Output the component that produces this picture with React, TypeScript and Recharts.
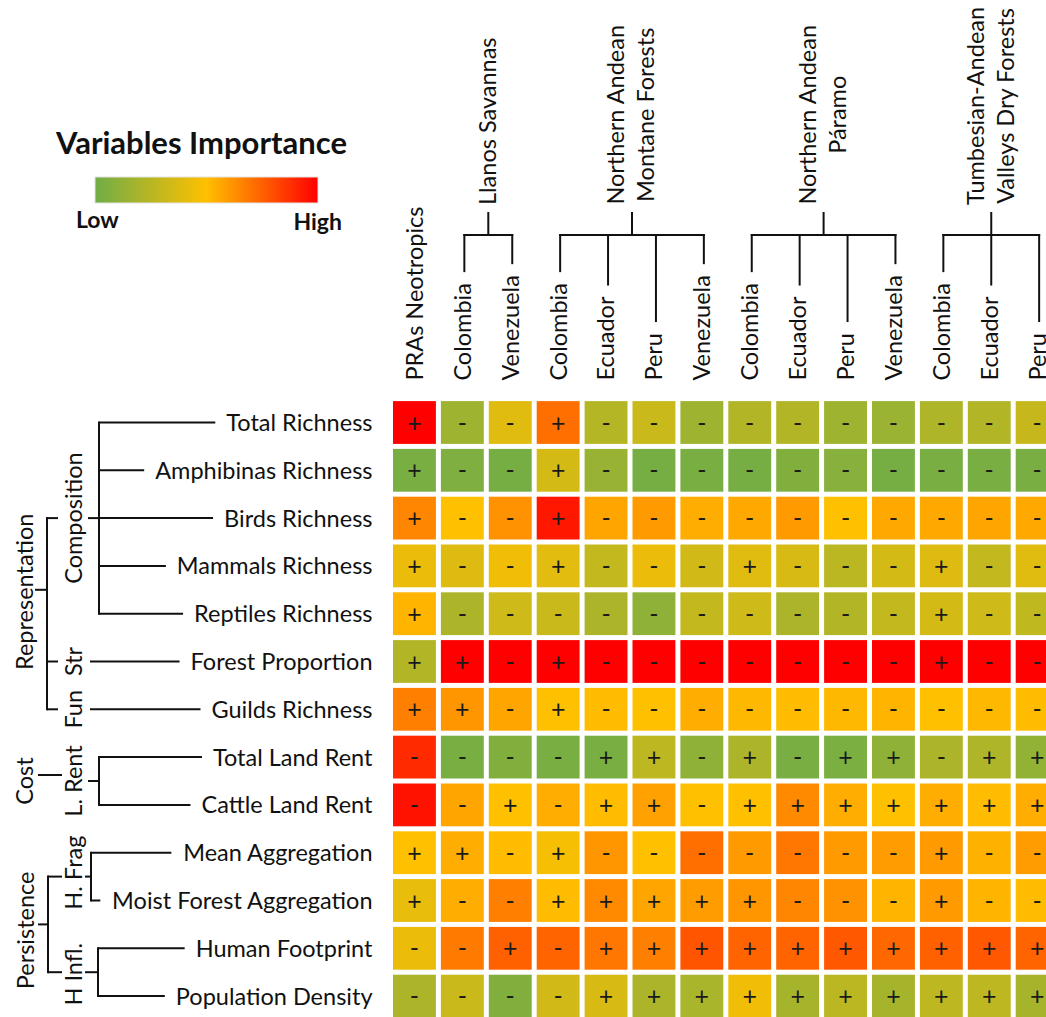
import React from "react";
import { ScatterChart, Scatter, XAxis, YAxis, Customized } from "recharts";

// study units along the top of the matrix
const columns = [
  "PRAs Neotropics",
  "Colombia", "Venezuela",
  "Colombia", "Ecuador", "Peru", "Venezuela",
  "Colombia", "Ecuador", "Peru", "Venezuela",
  "Colombia", "Ecuador", "Peru",
];

// ecoregion brackets over the country columns (first..last column index)
const ecoregions = [
  { lines: ["Llanos Savannas"], from: 1, to: 2 },
  { lines: ["Northern Andean", "Montane Forests"], from: 3, to: 6 },
  { lines: ["Northern Andean", "Páramo"], from: 7, to: 10 },
  { lines: ["Tumbesian-Andean", "Valleys Dry Forests"], from: 11, to: 13 },
];

const variables = [
  "Total Richness",
  "Amphibinas Richness",
  "Birds Richness",
  "Mammals Richness",
  "Reptiles Richness",
  "Forest Proportion",
  "Guilds Richness",
  "Total Land Rent",
  "Cattle Land Rent",
  "Mean Aggregation",
  "Moist Forest Aggregation",
  "Human Footprint",
  "Population Density",
];

// relative importance, 0 = low, 100 = high (one row per variable)
const importance = [
  [100, 16, 39, 71, 24, 31, 16, 23, 23, 16, 15, 22, 23, 30],
  [3, 5, 2, 35, 14, 2, 3, 2, 6, 8, 2, 3, 3, 3],
  [65, 50, 62, 94, 57, 60, 55, 56, 60, 50, 56, 56, 57, 56],
  [43, 38, 45, 40, 29, 43, 34, 39, 36, 26, 35, 38, 29, 39],
  [53, 21, 33, 31, 21, 11, 29, 33, 21, 23, 29, 35, 33, 28],
  [23, 100, 100, 100, 100, 100, 100, 100, 100, 100, 100, 100, 100, 100],
  [67, 61, 57, 50, 51, 50, 55, 52, 51, 52, 53, 50, 52, 51],
  [89, 3, 6, 3, 3, 27, 11, 21, 3, 4, 11, 21, 22, 12],
  [95, 57, 50, 55, 51, 58, 50, 50, 64, 55, 50, 55, 51, 55],
  [50, 55, 51, 47, 61, 50, 71, 60, 69, 60, 59, 60, 54, 59],
  [42, 55, 67, 51, 64, 57, 59, 61, 65, 62, 53, 60, 53, 51],
  [43, 68, 75, 74, 69, 67, 78, 74, 74, 77, 73, 75, 77, 74],
  [21, 31, 6, 34, 36, 21, 20, 45, 19, 26, 19, 27, 27, 19],
];

// direction of the effect for each cell
const signs = [
  "+--+----------",
  "+--+----------",
  "+--+----------",
  "+--+---+---+--",
  "+----------+--",
  "++-+-------+--",
  "++-+----------",
  "----++-+-++-++",
  "--+-++-+++++++",
  "++-+-------+--",
  "+--+++++---+--",
  "--+-++++++++++",
  "----++++++++++",
];

const FONT = "Lato, 'Open Sans', sans-serif";
const FS = 23.5;
const INK = "#111";

const PITCH_X = 47.9;
const PITCH_Y = 47.8;
const PLOT_LEFT = 390.5;
const PLOT_TOP = 398.6;
const CHART_W = 1062;
const CHART_H = 1021;

const colX = (i: number) => PLOT_LEFT + (i + 0.5) * PITCH_X;
const rowY = (j: number) => PLOT_TOP + (j + 0.5) * PITCH_Y;

const ctx = typeof document !== "undefined" ? document.createElement("canvas").getContext("2d") : null;
const textWidth = (s: string, size = FS, weight = "normal") => {
  if (!ctx) return s.length * size * 0.5;
  ctx.font = `${weight} ${size}px Lato`;
  return ctx.measureText(s).width;
};

const LOW = [112, 173, 71];
const MID = [255, 192, 0];
const HIGH = [255, 0, 0];
const heat = (v: number) => {
  const t = Math.max(0, Math.min(1, v / 100));
  const [a, b, u] = t < 0.5 ? [LOW, MID, t * 2] : [MID, HIGH, (t - 0.5) * 2];
  const c = (a as number[]).map((x, k) => Math.round(x + ((b as number[])[k] - x) * (u as number)));
  return `rgb(${c.join(",")})`;
};

const cells = variables.flatMap((_, j) =>
  columns.map((__, i) => ({ x: i, y: j, value: importance[j][i], sign: signs[j][i] }))
);

const HeatCell = (props: any) => {
  const { cx, cy, payload } = props;
  const w = PITCH_X - 5;
  const h = PITCH_Y - 5;
  return (
    <g>
      <rect x={cx - w / 2} y={cy - h / 2} width={w} height={h} fill={heat(payload.value)} />
      <text x={cx} y={cy} dy={9} textAnchor="middle" fontSize={25} fontFamily={FONT} fill="#1a1a1a">
        {payload.sign === "+" ? "+" : "-"}
      </text>
    </g>
  );
};

const RowTick = ({ x, y, payload }: any) => (
  <text x={x} y={y} dy="0.36em" textAnchor="end" fontSize={FS} fontFamily={FONT} fill={INK}>
    {variables[payload.value]}
  </text>
);

const ColTick = ({ x, y, payload }: any) => (
  <text
    x={x}
    y={y}
    dy="0.36em"
    transform={`rotate(-90 ${x} ${y})`}
    textAnchor="start"
    fontSize={FS}
    fontFamily={FONT}
    fill={INK}
  >
    {columns[payload.value]}
  </text>
);

const ROW_LABEL_END = PLOT_LEFT - 18;
const HEAD_BASE = PLOT_TOP - 18;
const rowStart = (j: number) => ROW_LABEL_END - textWidth(variables[j]);

const Ln = ({ x1, y1, x2, y2 }: any) => <line x1={x1} y1={y1} x2={x2} y2={y2} stroke={INK} strokeWidth={2} />;

const VLabel = ({ x, y, children }: any) => (
  <text
    x={x}
    y={y}
    dy="0.36em"
    transform={`rotate(-90 ${x} ${y})`}
    textAnchor="middle"
    fontSize={FS}
    fontFamily={FONT}
    fill={INK}
  >
    {children}
  </text>
);

const Overlay = () => {
  const parts: React.ReactNode[] = [];
  let k = 0;
  const ln = (x1: number, y1: number, x2: number, y2: number) =>
    parts.push(<Ln key={k++} x1={x1} y1={y1} x2={x2} y2={y2} />);
  const lab = (x: number, y: number, s: string) =>
    parts.push(<VLabel key={k++} x={x} y={y}>{s}</VLabel>);

  // ecoregion brackets above the columns
  const BAR_Y = 235;
  ecoregions.forEach((g) => {
    const xs: number[] = [];
    for (let i = g.from; i <= g.to; i++) {
      const x = colX(i) + 2;
      xs.push(x);
      ln(x, BAR_Y - 1, x, HEAD_BASE - textWidth(columns[i]) - 11);
    }
    ln(xs[0] - 1, BAR_Y, xs[xs.length - 1] + 1, BAR_Y);
    const mx = (xs[0] + xs[xs.length - 1]) / 2;
    ln(mx, BAR_Y, mx, 212);
    const longest = Math.max(...g.lines.map((s) => textWidth(s)));
    const cy = 205 - longest / 2;
    g.lines.forEach((s, n) => lab(mx + (n - (g.lines.length - 1) / 2) * 30 - 1, cy, s));
  });

  // variable hierarchy on the left
  const rowLine = (j: number, x0: number) => ln(x0, rowY(j), rowStart(j) - 11, rowY(j));

  // Composition
  ln(99, rowY(0) - 1, 99, rowY(4) + 1);
  [0, 1, 2, 3, 4].forEach((j) => rowLine(j, 99));
  ln(88, rowY(2), 99, rowY(2));
  lab(74, rowY(2), "Composition");
  // Str, Fun
  rowLine(5, 90);
  lab(74, rowY(5), "Str");
  rowLine(6, 90);
  lab(74, rowY(6), "Fun");
  // Representation
  const repY = (rowY(2) + rowY(5)) / 2;
  ln(47, rowY(2) - 1, 47, rowY(6) + 1);
  [2, 5, 6].forEach((j) => ln(47, rowY(j), 58, rowY(j)));
  ln(35, repY, 47, repY);
  lab(25, repY + 2, "Representation");

  // L. Rent / Cost
  const rentY = (rowY(7) + rowY(8)) / 2;
  ln(99, rowY(7) - 1, 99, rowY(8) + 1);
  rowLine(7, 99);
  rowLine(8, 99);
  ln(88, rentY, 99, rentY);
  lab(74, rentY, "L. Rent");
  ln(38, rentY - 6, 62, rentY - 6);
  lab(25, rentY, "Cost");

  // H. Frag
  const fragY = (rowY(9) + rowY(10)) / 2;
  ln(91, rowY(9) - 1, 91, rowY(10) + 1);
  rowLine(9, 91);
  rowLine(10, 91);
  ln(85, fragY, 91, fragY);
  lab(74, fragY - 4, "H. Frag");
  // H Infl.
  const inflY = (rowY(11) + rowY(12)) / 2;
  ln(98, rowY(11) - 1, 98, rowY(12) + 1);
  rowLine(11, 98);
  rowLine(12, 98);
  ln(85, inflY, 98, inflY);
  lab(74, inflY + 2, "H Infl.");
  // Persistence
  const perY = (fragY + inflY) / 2;
  ln(48, fragY - 1, 48, inflY + 1);
  ln(48, fragY, 62, fragY);
  ln(48, inflY, 62, inflY);
  ln(38, perY, 48, perY);
  lab(26, perY + 6, "Persistence");

  return (
    <g>
      <defs>
        <linearGradient id="impScale" x1="0" x2="1" y1="0" y2="0">
          <stop offset="0%" stopColor={heat(0)} />
          <stop offset="50%" stopColor={heat(50)} />
          <stop offset="100%" stopColor={heat(100)} />
        </linearGradient>
      </defs>
      <text x={56} y={154} fontSize={31} fontWeight={700} fontFamily={FONT} fill={INK}>
        Variables Importance
      </text>
      <rect x={95} y={177} width={223} height={26} fill="url(#impScale)" stroke="#e4e4e4" strokeWidth={1} />
      <text x={76} y={228} fontSize={23} fontWeight={700} fontFamily={FONT} fill={INK}>
        Low
      </text>
      <text x={342} y={230} textAnchor="end" fontSize={23} fontWeight={700} fontFamily={FONT} fill={INK}>
        High
      </text>
      {parts}
    </g>
  );
};

export default function App() {
  const colTicks = columns.map((_, i) => i);
  const rowTicks = variables.map((_, j) => j);
  return (
    <div
      style={{
        position: "absolute",
        left: 0,
        top: 0,
        width: 1046,
        height: 1017,
        overflow: "hidden",
        background: "#fff",
      }}
    >
      <ScatterChart
        width={CHART_W}
        height={CHART_H}
        margin={{
          top: 0,
          left: 0,
          right: CHART_W - (PLOT_LEFT + columns.length * PITCH_X),
          bottom: CHART_H - (PLOT_TOP + variables.length * PITCH_Y),
        }}
      >
        <XAxis
          type="number"
          dataKey="x"
          orientation="top"
          domain={[-0.5, columns.length - 0.5]}
          ticks={colTicks}
          interval={0}
          height={PLOT_TOP}
          axisLine={false}
          tickLine={false}
          tickSize={0}
          tickMargin={18}
          tick={<ColTick />}
        />
        <YAxis
          type="number"
          dataKey="y"
          reversed
          domain={[-0.5, variables.length - 0.5]}
          ticks={rowTicks}
          interval={0}
          width={PLOT_LEFT}
          axisLine={false}
          tickLine={false}
          tickSize={0}
          tickMargin={18}
          tick={<RowTick />}
        />
        <Scatter data={cells} shape={<HeatCell />} isAnimationActive={false} />
        <Customized component={Overlay} />
      </ScatterChart>
    </div>
  );
}
